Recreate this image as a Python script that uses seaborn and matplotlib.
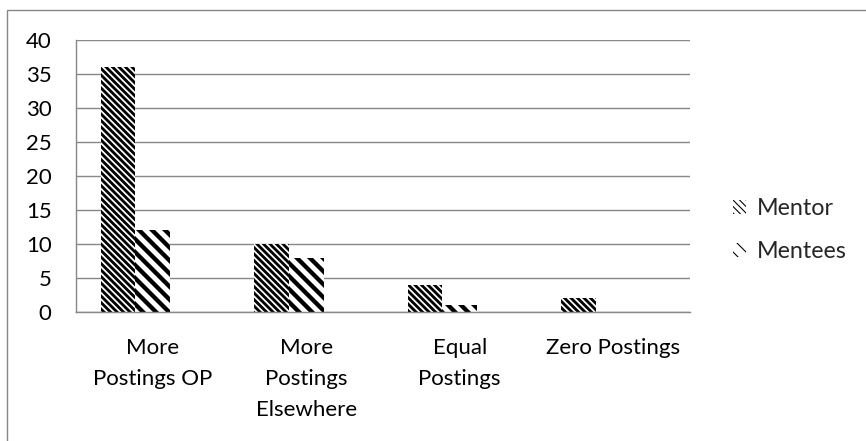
import matplotlib
matplotlib.use("Agg")
import matplotlib.pyplot as plt
import seaborn as sns
import pandas as pd
from matplotlib.patches import Rectangle, Patch

categories = ["More\nPostings OP", "More\nPostings\nElsewhere", "Equal\nPostings", "Zero Postings"]
mentor = [36, 10, 4, 2]
mentees = [12, 8, 1, 0]
blank = [0, 0, 0, 0]  # empty third series (Excel layout)
series = ["Mentor", "Mentees", "_blank"]
yticks = [0, 5, 10, 15, 20, 25, 30, 35, 40]

rows = []
for s, vals in zip(series, [mentor, mentees, blank]):
    for c, v in zip(categories, vals):
        rows.append({"cat": c, "series": s, "value": v})
df = pd.DataFrame(rows)

DPI = 78
sns.set_theme(style="white")
plt.rcParams['font.family'] = ['Lato', 'DejaVu Sans']
FS = 20.5
LFS = 21.5
GRAY = '#888888'

fig = plt.figure(figsize=(866 / DPI, 441 / DPI), dpi=DPI)
ax = fig.add_axes([76 / 866, 1 - 312 / 441, (690 - 76) / 866, (312 - 40) / 441])

sns.barplot(data=df, x="cat", y="value", hue="series", hue_order=series,
            order=categories, width=0.675, ax=ax, legend=False,
            palette=["white", "white", "white"], errorbar=None)

hatches = ['\\\\\\\\', '\\\\', '']
hlw = [2.6, 4.0, 1]
for cont, h, lw in zip(ax.containers, hatches, hlw):
    for p in cont:
        p.set_facecolor('white')
        p.set_edgecolor('black')
        p.set_linewidth(0)
        p.set_hatch(h)
        if hasattr(p, 'set_hatch_linewidth'):
            p.set_hatch_linewidth(lw)

ax.set_xlim(-0.5, len(categories) - 0.5)
ax.set_ylim(0, 40)
ax.set_yticks(yticks)
ax.set_yticklabels([str(t) for t in yticks], fontsize=FS, color='black')
ax.set_xticks(range(len(categories)))
ax.set_xticklabels(categories, fontsize=FS, color='black', linespacing=1.68)
ax.set_xticks([i - 0.5 for i in range(len(categories) + 1)], minor=True)
ax.tick_params(axis='x', which='major', length=0, pad=24)
ax.tick_params(axis='x', which='minor', length=7.4, width=1, color=GRAY, direction='out')
ax.tick_params(axis='y', which='major', length=7.4, width=1, color=GRAY, direction='out', pad=15)
ax.set_xlabel('')
ax.set_ylabel('')
ax.grid(axis='y', color=GRAY, linewidth=1.3)
ax.set_axisbelow(True)
for side in ['top', 'right']:
    ax.spines[side].set_visible(False)
for side in ['left', 'bottom']:
    ax.spines[side].set_color(GRAY)
    ax.spines[side].set_linewidth(1.3)

handles = []
for i in range(2):
    hp = Patch(facecolor='white', edgecolor='black', linewidth=0, hatch=hatches[i])
    if hasattr(hp, 'set_hatch_linewidth'):
        hp.set_hatch_linewidth(hlw[i])
    handles.append(hp)
leg = fig.legend(handles, series[:2], loc='center left', bbox_to_anchor=(733 / 866, 1 - 230 / 441),
                 frameon=False, fontsize=LFS, handlelength=0.56, handleheight=0.56,
                 handletextpad=0.47, labelspacing=0.95, borderpad=0, borderaxespad=0)

fig.patches.append(Rectangle((7 / 866, -0.1), 1.0, 1 - 10 / 441 + 0.1, transform=fig.transFigure,
                             fill=False, edgecolor=GRAY, linewidth=1.3))

fig.savefig("out.png", dpi=DPI)
